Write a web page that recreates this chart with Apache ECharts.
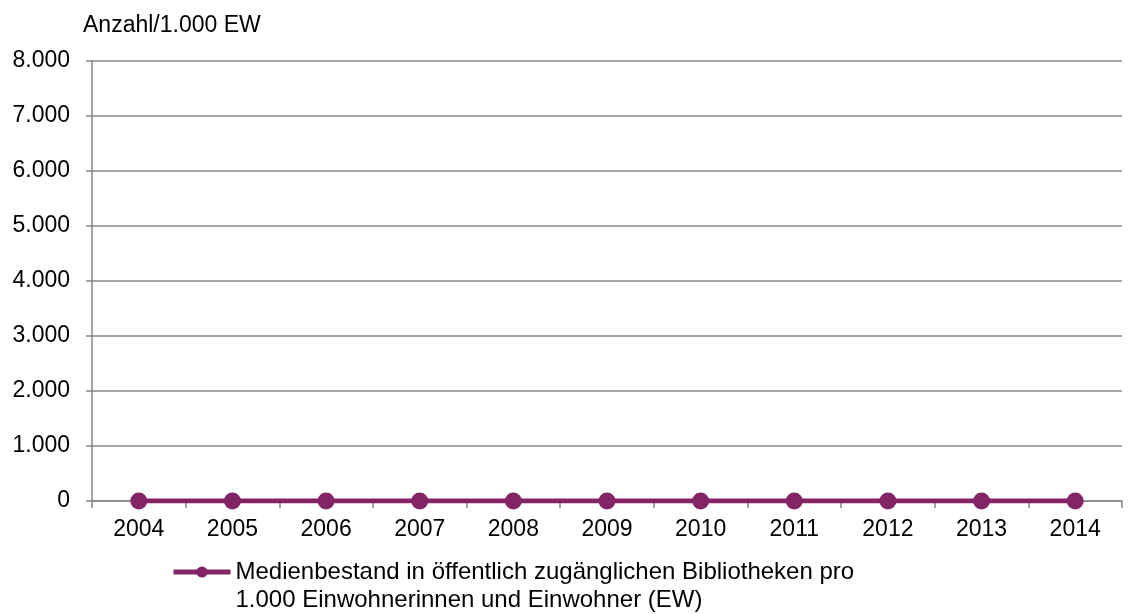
<!DOCTYPE html>
<html>
<head>
<meta charset="utf-8">
<script src="https://cdn.jsdelivr.net/npm/echarts@6/dist/echarts.min.js"></script>
<style>
  html, body { margin: 0; padding: 0; background: #fff; }
  #chart { width: 1136px; height: 614px; }
</style>
</head>
<body>
<div id="chart"></div>
<script>
// Jahre und Werte (Medienbestand pro 1.000 EW)
const years = ['2004', '2005', '2006', '2007', '2008', '2009', '2010', '2011', '2012', '2013', '2014']
const values = [0, 0, 0, 0, 0, 0, 0, 0, 0, 0, 0]
const seriesName = 'Medienbestand in öffentlich zugänglichen Bibliotheken pro\n1.000 Einwohnerinnen und Einwohner (EW)'

const fmt = (v) => String(v).replace(/\B(?=(\d{3})+(?!\d))/g, '.')

const chart = echarts.init(document.getElementById('chart'))
const option = {
  animation: false,
  textStyle: { fontFamily: 'Liberation Sans, Arial, sans-serif' },
  title: {
    text: 'Anzahl/1.000 EW',
    left: 83,
    top: 14,
    padding: 0,
    textStyle: { fontSize: 23, fontWeight: 'normal', color: '#000' }
  },
  grid: { left: 92, right: 14, top: 61, bottom: 113 },
  legend: {
    left: 171,
    top: 530,
    padding: 0,
    itemWidth: 57,
    itemHeight: 14,
    lineStyle: { width: 5 },
    // leere erste Zeile, damit das Symbol auf Höhe der ersten Textzeile steht
    formatter: (name) => ' \n' + name,
    textStyle: { fontSize: 24, color: '#000', lineHeight: 28 },
    data: [seriesName]
  },
  xAxis: {
    type: 'category',
    data: years,
    boundaryGap: true,
    axisLine: { lineStyle: { color: '#878787', width: 1.5 } },
    axisTick: { show: true, length: 7, lineStyle: { color: '#878787', width: 1.5 } },
    axisLabel: { fontSize: 23, color: '#000', margin: 17 }
  },
  yAxis: {
    type: 'value',
    min: 0,
    max: 8000,
    interval: 1000,
    axisLine: { show: true, lineStyle: { color: '#878787', width: 1.5 } },
    axisTick: { show: true, length: 6, lineStyle: { color: '#878787', width: 1.5 } },
    splitLine: { lineStyle: { color: '#878787', width: 1.5 } },
    axisLabel: { fontSize: 23, color: '#000', margin: 22, formatter: fmt }
  },
  series: [
    {
      name: seriesName,
      type: 'line',
      data: values,
      symbol: 'circle',
      symbolSize: 17,
      lineStyle: { color: '#822466', width: 5 },
      itemStyle: { color: '#822466' }
    }
  ]
}
chart.setOption(option)
</script>
</body>
</html>
